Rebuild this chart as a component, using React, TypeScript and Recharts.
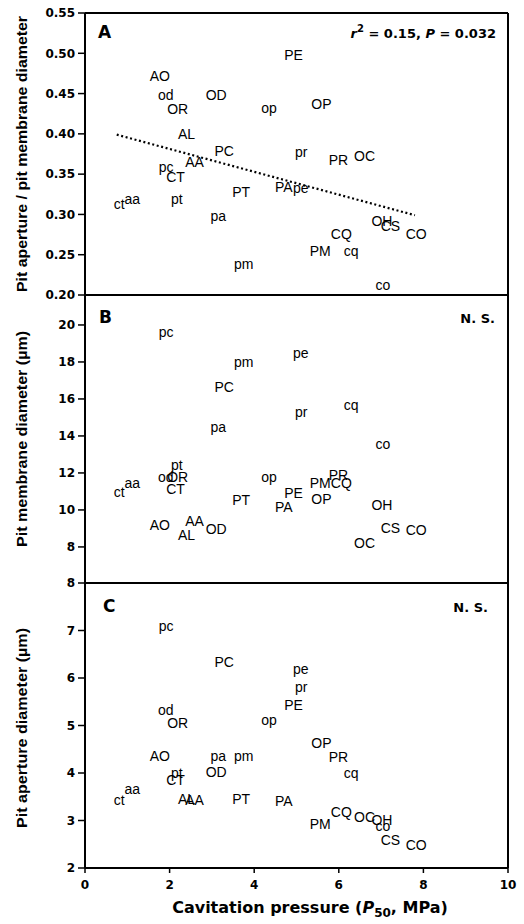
import { ScatterChart, Scatter, XAxis, YAxis } from "recharts";

// species codes, P50 (MPa) and the three pit traits
const codes = ["PE", "AO", "od", "OD", "OR", "op", "OP", "AL", "PC", "pr", "PR", "OC", "pc", "AA", "CT", "PT", "PA", "pe", "ct", "aa", "pt", "pa", "OH", "CS", "CO", "CQ", "PM", "cq", "pm", "co"];
const p50 = [4.93, 1.77, 1.91, 3.1, 2.19, 4.35, 5.59, 2.4, 3.29, 5.11, 5.99, 6.61, 1.92, 2.59, 2.14, 3.69, 4.7, 5.1, 0.81, 1.12, 2.17, 3.15, 7.02, 7.22, 7.83, 6.06, 5.56, 6.29, 3.75, 7.04];
const ratio = [0.498, 0.472, 0.448, 0.448, 0.431, 0.432, 0.437, 0.4, 0.379, 0.378, 0.368, 0.372, 0.359, 0.365, 0.346, 0.328, 0.334, 0.333, 0.313, 0.319, 0.319, 0.298, 0.292, 0.286, 0.276, 0.276, 0.255, 0.255, 0.239, 0.212];
const membrane = [10.94, 9.19, 11.77, 8.96, 11.77, 11.8, 10.58, 8.65, 16.67, 15.31, 11.88, 8.23, 19.64, 9.42, 11.12, 10.54, 10.15, 18.5, 10.96, 11.48, 12.43, 14.47, 10.27, 9.01, 8.92, 11.48, 11.48, 15.68, 18.02, 13.57];
const aperture = [5.43, 4.35, 5.32, 4.02, 5.05, 5.11, 4.64, 3.46, 6.34, 5.81, 4.33, 3.08, 7.09, 3.43, 3.86, 3.46, 3.41, 6.18, 3.44, 3.67, 3.99, 4.35, 3.02, 2.6, 2.48, 3.18, 2.92, 4.01, 4.35, 2.88];

// regression line for panel A (end points)
const trendX = [0.75, 7.8];
const trendY = [0.399, 0.299];

const xTicks = [0, 2, 4, 6, 8, 10];
const ticksA = [0.2, 0.25, 0.3, 0.35, 0.4, 0.45, 0.5, 0.55];
const ticksB = [8, 10, 12, 14, 16, 18, 20];
const ticksC = [2, 3, 4, 5, 6, 7, 8];

const toRows = (ys: number[]) => codes.map((code, i) => ({ code, x: p50[i], y: ys[i] }));
const trend = trendX.map((x, i) => ({ x, y: trendY[i] }));

const tickFont = { fill: "#000", fontSize: 12, fontWeight: "bold", fontFamily: "DejaVu Sans" };
const line = { stroke: "#000", strokeWidth: 2 };
const tline = { stroke: "#000", strokeWidth: 1.5 };

const CodeLabel = (props: any) => (
  <text
    x={props.cx}
    y={props.cy}
    textAnchor="middle"
    dominantBaseline="central"
    fontSize={14}
    fontFamily="Liberation Sans, Arial"
    fill="#000"
  >
    {props.payload.code}
  </text>
);

const NoDot = () => <g />;

type PanelProps = {
  top: number;
  height: number;
  marginTop: number;
  marginBottom: number;
  domain: [number, number];
  ticks: number[];
  rows: { code: string; x: number; y: number }[];
  fmt?: (v: number) => string;
  showX?: boolean;
  withTrend?: boolean;
};

function Panel({ top, height, marginTop, marginBottom, domain, ticks, rows, fmt, showX, withTrend }: PanelProps) {
  return (
    <div style={{ position: "absolute", left: 0, top }}>
      <ScatterChart width={524} height={height} margin={{ top: marginTop, right: 16, bottom: marginBottom, left: 25 }}>
        {showX ? (
          <XAxis xAxisId="b" type="number" dataKey="x" domain={[0, 10]} ticks={xTicks} allowDataOverflow
            orientation="bottom" height={30} tickSize={5} tickMargin={7} tick={tickFont} axisLine={line} tickLine={tline} />
        ) : (
          <XAxis xAxisId="b" type="number" dataKey="x" domain={[0, 10]} ticks={xTicks} allowDataOverflow
            orientation="bottom" mirror tick={false} tickSize={5} axisLine={line} tickLine={tline} />
        )}
        <XAxis xAxisId="t" type="number" domain={[0, 10]} ticks={xTicks} allowDataOverflow
          orientation="top" mirror tick={false} tickSize={5} axisLine={line} tickLine={tline} />
        <YAxis yAxisId="l" type="number" dataKey="y" domain={domain} ticks={ticks} allowDataOverflow
          width={60} tickSize={7} tickMargin={3} tick={tickFont} tickFormatter={fmt} axisLine={line} tickLine={tline} />
        <YAxis yAxisId="r" type="number" orientation="right" domain={domain} ticks={ticks} allowDataOverflow
          mirror tick={false} tickSize={5} axisLine={line} tickLine={tline} />
        {withTrend && (
          <Scatter xAxisId="b" yAxisId="l" data={trend} shape={NoDot} isAnimationActive={false}
            line={{ stroke: "#000", strokeWidth: 2.2, strokeDasharray: "2 2.6" }} />
        )}
        <Scatter xAxisId="b" yAxisId="l" data={rows} shape={CodeLabel} isAnimationActive={false} />
      </ScatterChart>
    </div>
  );
}

const bold = { fontFamily: "DejaVu Sans", fontWeight: "bold", fill: "#000" } as const;
const titleFont = { fontFamily: "Liberation Sans, Arial", fontWeight: "bold", fill: "#000", fontSize: 14 } as const;

export default function App() {
  return (
    <div style={{ position: "absolute", left: 0, top: 0, width: 524, height: 924, background: "#fff" }}>
      <Panel top={0} height={305} marginTop={13} marginBottom={10} domain={[0.2, 0.55]} ticks={ticksA}
        rows={toRows(ratio)} fmt={(v) => v.toFixed(2)} withTrend />
      <Panel top={285} height={308} marginTop={10} marginBottom={10} domain={[6.05, 21.62]} ticks={ticksB}
        rows={toRows(membrane)} />
      <Panel top={573} height={351} marginTop={10} marginBottom={26} domain={[2, 8]} ticks={ticksC}
        rows={toRows(aperture)} showX />
      <svg width={524} height={924} style={{ position: "absolute", left: 0, top: 0, pointerEvents: "none" }}>
        <text x={98} y={38} fontSize={17} {...bold}>A</text>
        <text x={99} y={323} fontSize={17} {...bold}>B</text>
        <text x={103} y={612} fontSize={17} {...bold}>C</text>
        <text x={496} y={38} fontSize={13} textAnchor="end" {...bold}>
          <tspan fontStyle="italic">r</tspan>
          <tspan dy={-6} fontSize={10}>2</tspan>
          <tspan dy={6}> = 0.15, </tspan>
          <tspan fontStyle="italic">P</tspan>
          <tspan> = 0.032</tspan>
        </text>
        <text x={495} y={323} fontSize={13} textAnchor="end" {...bold}>N. S.</text>
        <text x={488} y={612} fontSize={13} textAnchor="end" {...bold}>N. S.</text>
        <text transform="translate(27,154) rotate(-90)" textAnchor="middle" textLength={276} lengthAdjust="spacingAndGlyphs" {...titleFont}>
          Pit aperture / pit membrane diameter
        </text>
        <text transform="translate(27,439) rotate(-90)" textAnchor="middle" textLength={216} lengthAdjust="spacingAndGlyphs" {...titleFont}>
          Pit membrane diameter (µm)
        </text>
        <text transform="translate(27,728) rotate(-90)" textAnchor="middle" textLength={200} lengthAdjust="spacingAndGlyphs" {...titleFont}>
          Pit aperture diameter (µm)
        </text>
        <text x={310} y={913} fontSize={16} textAnchor="middle" {...bold}>
          Cavitation pressure (<tspan fontStyle="italic">P</tspan>
          <tspan dy={4} fontSize={12}>50</tspan>
          <tspan dy={-4}>, MPa)</tspan>
        </text>
      </svg>
    </div>
  );
}
